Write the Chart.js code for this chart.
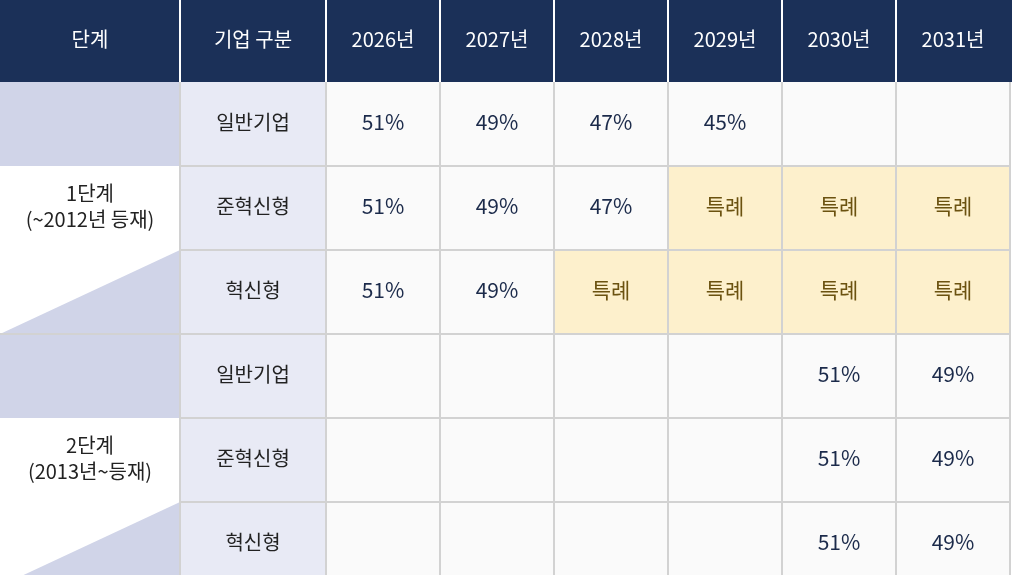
<!DOCTYPE html>
<html><head><meta charset="utf-8">
<script src="https://cdn.jsdelivr.net/npm/chart.js@4/dist/chart.umd.min.js"></script>
<style>html,body{margin:0;padding:0;background:#fff}#wrap{width:1012px;height:575px}</style>
</head><body><div id="wrap"><canvas id="tbl"></canvas></div>
<script>
// data
const headers = ["단계", "기업 구분", "2026년", "2027년", "2028년", "2029년", "2030년", "2031년"];
const stages = ["1단계\n(~2012년 등재)", "2단계\n(2013년~등재)"];
const companyTypes = ["일반기업", "준혁신형", "혁신형", "일반기업", "준혁신형", "혁신형"];
const rowValues = [
  ["51%", "49%", "47%", "45%", "", ""],
  ["51%", "49%", "47%", "특례", "특례", "특례"],
  ["51%", "49%", "특례", "특례", "특례", "특례"],
  ["", "", "", "", "51%", "49%"],
  ["", "", "", "", "51%", "49%"],
  ["", "", "", "", "51%", "49%"]
];

// layout
const colEdges = [0, 180, 326, 440, 554, 668, 782, 896, 1010];
const headH = 82, rowH = 84;
const FONT = "'Noto Sans CJK KR', 'Noto Sans', sans-serif";

const tablePlugin = {
  id: "tablePlugin",
  afterDraw(chart) {
    const ctx = chart.ctx, xs = chart.scales.x, ys = chart.scales.y;
    const X = v => xs.getPixelForValue(v), Y = v => ys.getPixelForValue(v);
    const rowTop = r => headH + r * rowH;
    ctx.save();
    ctx.textAlign = "center";
    ctx.textBaseline = "middle";

    // header
    for (let c = 0; c < headers.length; c++) {
      ctx.fillStyle = "#1b3058";
      ctx.fillRect(X(colEdges[c]), Y(0), X(colEdges[c + 1]) - X(colEdges[c]), Y(headH) - Y(0));
      ctx.fillStyle = "#fff";
      ctx.font = "20px " + FONT;
      ctx.fillText(headers[c], (X(colEdges[c]) + X(colEdges[c + 1])) / 2, Y(headH / 2 - 2));
    }
    ctx.fillStyle = "#1b3058";
    ctx.fillRect(X(1010), Y(0), 2, Y(headH));

    // body
    companyTypes.forEach((t, r) => {
      const y0 = Y(rowTop(r)), y1 = Y(rowTop(r) + rowH);
      const cy = (y0 + y1) / 2 - 2;
      ctx.fillStyle = "#e8eaf5";
      ctx.fillRect(X(colEdges[1]), y0, X(colEdges[2]) - X(colEdges[1]), y1 - y0);
      ctx.fillStyle = "#222";
      ctx.font = "20px " + FONT;
      ctx.fillText(t, (X(colEdges[1]) + X(colEdges[2])) / 2, cy);
      rowValues[r].forEach((v, i) => {
        const xa = X(colEdges[i + 2]), xb = X(colEdges[i + 3]);
        const special = v === "특례";
        ctx.fillStyle = special ? "#fdf0cc" : "#fafafa";
        ctx.fillRect(xa, y0, xb - xa, y1 - y0);
        ctx.fillStyle = special ? "#6b5210" : "#1b2a4a";
        ctx.font = "21px " + FONT;
        if (v) ctx.fillText(v, (xa + xb) / 2, cy);
      });
    });

    // stage column
    stages.forEach((s, g) => {
      const top = Y(rowTop(g * 3)), mid = Y(rowTop(g * 3 + 1)), mid2 = Y(rowTop(g * 3 + 2)), bot = Y(rowTop(g * 3 + 3));
      ctx.fillStyle = "#fff";
      ctx.fillRect(X(0), top, X(180), bot - top);
      ctx.fillStyle = "#d0d4e8";
      ctx.fillRect(X(0), top, X(180), mid - top);
      ctx.beginPath();
      ctx.moveTo(X(0), bot); ctx.lineTo(X(180), mid2); ctx.lineTo(X(180), bot); ctx.closePath();
      ctx.fill();
      ctx.fillStyle = "#222";
      ctx.font = "20px " + FONT;
      const lines = s.split("\n");
      const cy = (mid + mid2) / 2 - 2;
      lines.forEach((l, i) => ctx.fillText(l, X(90), cy + (i - 0.5) * 26));
    });

    // grid lines
    ctx.strokeStyle = "#d2d2d2";
    ctx.lineWidth = 2;
    for (let r = 1; r <= companyTypes.length; r++) {
      const y = Y(rowTop(r));
      const startX = (r % 3 === 0) ? X(0) : X(180);
      ctx.beginPath(); ctx.moveTo(startX, y); ctx.lineTo(X(1010), y); ctx.stroke();
    }
    for (let c = 1; c < colEdges.length; c++) {
      ctx.beginPath(); ctx.moveTo(X(colEdges[c]), Y(headH)); ctx.lineTo(X(colEdges[c]), Y(575)); ctx.stroke();
    }
    ctx.strokeStyle = "#fff";
    for (let c = 1; c < colEdges.length - 1; c++) {
      ctx.beginPath(); ctx.moveTo(X(colEdges[c]), Y(0)); ctx.lineTo(X(colEdges[c]), Y(headH)); ctx.stroke();
    }
    ctx.restore();
  }
};

new Chart(document.getElementById("tbl"), {
  type: "scatter",
  data: { datasets: [{ data: [], pointRadius: 0 }] },
  options: {
    responsive: true,
    maintainAspectRatio: false,
    animation: false,
    layout: { padding: 0 },
    plugins: { legend: { display: false }, tooltip: { enabled: false } },
    scales: {
      x: { type: "linear", min: 0, max: 1012, display: false },
      y: { type: "linear", min: 0, max: 575, reverse: true, display: false }
    }
  },
  plugins: [tablePlugin]
});
</script></body></html>
